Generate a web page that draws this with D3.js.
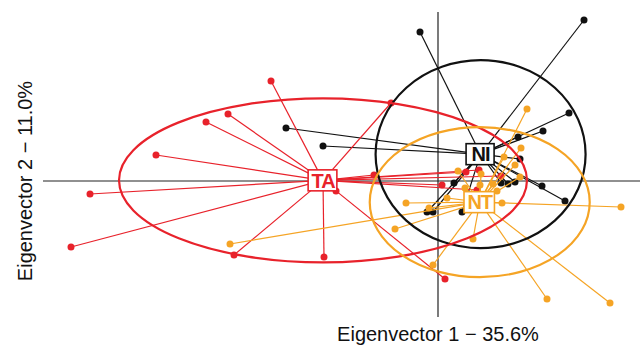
<!DOCTYPE html>
<html>
<head>
<meta charset="utf-8">
<script src="https://cdn.jsdelivr.net/npm/d3@7"></script>
<style>
  html, body { margin: 0; padding: 0; background: #fff; }
  svg { display: block; font-family: "Liberation Sans", Arial, sans-serif; }
</style>
</head>
<body>
<svg id="chart" width="640" height="346"></svg>
<script>
// Group codes and colours
const groups = ["NI", "TA", "NT"];
const groupColors = ["#111111", "#e8222b", "#f5a425"];

// Site scores on the first two eigenvectors, per group
const niPC1 = [-0.18, 1.46, 1.31, 1.05, 0.80, -1.52, -1.15, 0.16, 0.63, 0.70, 0.77, 1.04, 1.27, -0.11, -0.05, 0.24, 0.82];
const niPC2 = [1.49, 1.61, 0.68, 0.50, 0.44, 0.53, 0.35, -0.02, -0.02, -0.03, -0.01, -0.05, -0.20, -0.31, -0.31, -0.31, 0.22];

const taPC1 = [-1.67, -2.10, -2.32, -2.82, -3.48, -3.67, -2.04, -1.14, -0.47, -1.02, -0.64, 0.04, 0.28, 0.41, 0.63, 0.39, 0.07];
const taPC2 = [1.00, 0.67, 0.59, 0.26, -0.13, -0.66, -0.74, -0.76, 0.78, -0.10, 0.06, -0.04, 0.09, 0.11, 0.05, -0.09, -0.98];

const ntPC1 = [0.89, 0.83, 0.77, 0.66, 0.82, 0.20, 0.43, 0.55, 0.59, 0.27, 0.09, -0.09, -0.32, -0.43, -2.08, 0.35, -0.05, 1.09, 1.72, 1.83, 0.64, 0.42];
const ntPC2 = [0.72, 0.33, 0.16, 0.24, 0.04, 0.10, 0.07, -0.03, -0.10, -0.07, -0.17, -0.27, -0.22, -0.48, -0.63, -0.58, -0.84, -1.18, -1.22, -0.26, -0.22, -0.04];

// Ellipse semi-axes (PC units) around each group centroid
const ellipseRx = [1.05, 2.04, 1.10];
const ellipseRy = [0.94, 0.82, 0.75];

// Axis titles
const xTitle = "Eigenvector 1 \u2212 35.6%";
const yTitle = "Eigenvector 2 \u2212 11.0%";

const scores = [[niPC1, niPC2], [taPC1, taPC2], [ntPC1, ntPC2]];

const svg = d3.select("#chart");
const plot = { left: 43, right: 643, top: 12, bottom: 317 };

const x = d3.scaleLinear().domain([-3.95, 2.05]).range([plot.left, plot.right]);
const y = d3.scaleLinear().domain([-1.36, 1.69]).range([plot.bottom, plot.top]);

// Zero reference lines
svg.append("line")
  .attr("x1", plot.left).attr("x2", plot.right)
  .attr("y1", y(0)).attr("y2", y(0))
  .attr("stroke", "#222").attr("stroke-width", 1.2);
svg.append("line")
  .attr("x1", x(0)).attr("x2", x(0))
  .attr("y1", plot.top).attr("y2", plot.bottom)
  .attr("stroke", "#222").attr("stroke-width", 1.2);

// Build per-group records with centroids
const data = groups.map((g, i) => {
  const [p1, p2] = scores[i];
  const pts = p1.map((v, j) => ({ x: v, y: p2[j] }));
  return {
    name: g,
    color: groupColors[i],
    pts,
    cx: d3.mean(p1),
    cy: d3.mean(p2),
    rx: ellipseRx[i],
    ry: ellipseRy[i]
  };
});

// Spider segments and site points
data.forEach(d => {
  const g = svg.append("g");
  g.selectAll("line").data(d.pts).join("line")
    .attr("x1", x(d.cx)).attr("y1", y(d.cy))
    .attr("x2", p => x(p.x)).attr("y2", p => y(p.y))
    .attr("stroke", d.color).attr("stroke-width", 1.2);
  g.selectAll("circle").data(d.pts).join("circle")
    .attr("cx", p => x(p.x)).attr("cy", p => y(p.y))
    .attr("r", 3.5).attr("fill", d.color);
});

// Dispersion ellipses
svg.selectAll("ellipse.disp").data(data).join("ellipse")
  .attr("class", "disp")
  .attr("cx", d => x(d.cx)).attr("cy", d => y(d.cy))
  .attr("rx", d => x(d.rx) - x(0)).attr("ry", d => y(0) - y(d.ry))
  .attr("fill", "none").attr("stroke", d => d.color).attr("stroke-width", 2.2);

// Centroid labels in boxes
data.forEach(d => {
  const g = svg.append("g").attr("transform", `translate(${x(d.cx)},${y(d.cy)})`);
  const rect = g.append("rect");
  const t = g.append("text")
    .attr("text-anchor", "middle").attr("dy", "0.36em")
    .attr("font-size", 20).attr("font-weight", "bold")
    .attr("fill", d.color).attr("letter-spacing", -1)
    .text(d.name);
  const bb = t.node().getBBox();
  const w = Math.max(bb.width + 5, 28), h = 21;
  rect.attr("x", -w / 2 - 0.5).attr("y", -h / 2).attr("width", w).attr("height", h)
    .attr("fill", "#fff").attr("stroke", d.color).attr("stroke-width", 1.6);
});

// Axis titles
svg.append("text")
  .attr("x", x(0)).attr("y", 341)
  .attr("text-anchor", "middle").attr("font-size", 20).attr("fill", "#111")
  .text(xTitle);
svg.append("text")
  .attr("transform", `translate(32,${y(0)}) rotate(-90)`)
  .attr("text-anchor", "middle").attr("font-size", 20).attr("fill", "#111")
  .text(yTitle);
</script>
</body>
</html>
